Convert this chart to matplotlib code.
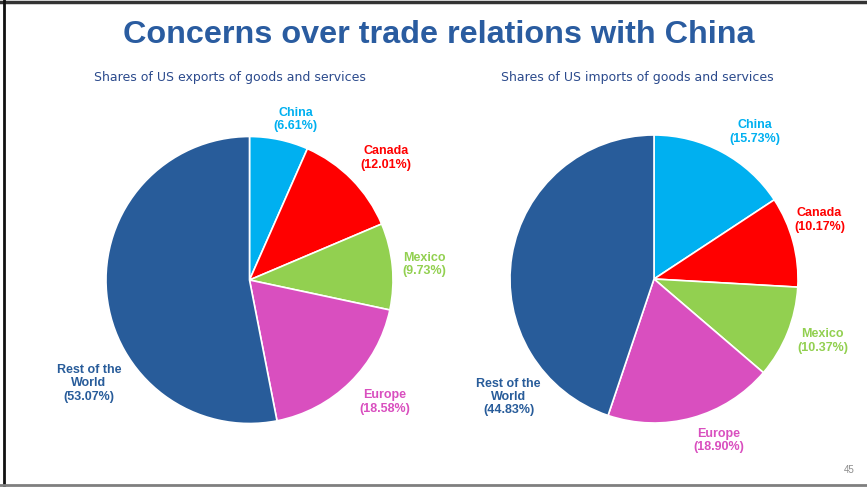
import matplotlib
matplotlib.use('Agg')
import matplotlib.pyplot as plt
from matplotlib.lines import Line2D

# shares of US trade by partner, percent
regions = ['China', 'Canada', 'Mexico', 'Europe', 'Rest of the\nWorld']
exportShares = [6.61, 12.01, 9.73, 18.58, 53.07]
importShares = [15.73, 10.17, 10.37, 18.90, 44.83]

sliceColors = ['#00b0f0', '#ff0000', '#92d050', '#d94fbf', '#285c9a']

# label offsets from the pie centre, in pie radii
exportLabelPos = [(0.32, 1.12), (0.95, 0.85), (1.22, 0.11), (0.94, -0.85), (-1.12, -0.72)]
importLabelPos = [(0.70, 1.02), (1.15, 0.41), (1.17, -0.43), (0.45, -1.12), (-1.01, -0.82)]

W, H = 867, 487
fig = plt.figure(figsize=(W / 100, H / 100), dpi=100)


def pieAxes(cx, cy, r):
    # square axes in pixel units, y measured from the top
    return fig.add_axes([(cx - r) / W, (H - cy - r) / H, 2 * r / W, 2 * r / H])


def drawPie(ax, shares, labelPos):
    ax.pie(shares, colors=sliceColors, startangle=90, counterclock=False,
           radius=1, wedgeprops=dict(edgecolor='white', linewidth=1.2))
    ax.set_xlim(-1, 1)
    ax.set_ylim(-1, 1)
    ax.set_aspect('equal')
    ax.axis('off')
    for name, val, col, (x, y) in zip(regions, shares, sliceColors, labelPos):
        ax.text(x, y, '%s\n(%.2f%%)' % (name, val), color=col, ha='center', va='center',
                fontsize=9, fontweight='bold', family='Liberation Sans', linespacing=1.15,
                clip_on=False)


axL = pieAxes(249.5, 280, 143.5)
drawPie(axL, exportShares, exportLabelPos)
axR = pieAxes(654, 279, 144)
drawPie(axR, importShares, importLabelPos)

fig.text(439 / W, 1 - 35 / H, 'Concerns over trade relations with China', ha='center', va='center',
         fontsize=23.3, fontweight='bold', color='#2a5ca0', family='Liberation Sans')
fig.text(230 / W, 1 - 78 / H, 'Shares of US exports of goods and services', ha='center', va='center',
         fontsize=9.0, color='#2b4a8c', family='DejaVu Sans')
fig.text(637 / W, 1 - 78 / H, 'Shares of US imports of goods and services', ha='center', va='center',
         fontsize=9.0, color='#2b4a8c', family='DejaVu Sans')
fig.text(849 / W, 1 - 470 / H, '45', ha='center', va='center', fontsize=7, color='#8c8c8c',
         family='Liberation Sans')

# slide frame
fig.add_artist(Line2D([0, 1], [1 - 2 / H, 1 - 2 / H], color='#333333', linewidth=2.5))
fig.add_artist(Line2D([4 / W, 4 / W], [0, 1], color='#111111', linewidth=2))
fig.add_artist(Line2D([0, 1], [1 - 485 / H, 1 - 485 / H], color='#7f7f7f', linewidth=2))

fig.savefig('out.png', dpi=100)
